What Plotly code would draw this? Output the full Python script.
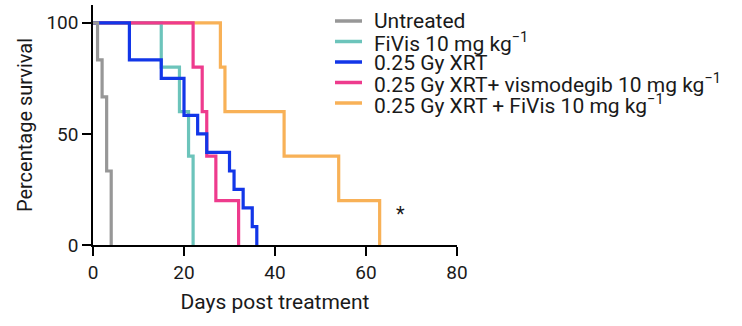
import plotly.graph_objects as go

# ---- data ----
names = ["Untreated", "FiVis 10 mg kg<sup>−1</sup>", "0.25 Gy XRT",
         "0.25 Gy XRT+ vismodegib 10 mg kg<sup>−1</sup>",
         "0.25 Gy XRT + FiVis 10 mg kg<sup>−1</sup>"]
colors = ["#979797", "#6cc4bb", "#1236e8", "#ee3b8d", "#f8b157"]

untreated_days = [0, 1, 2, 3, 4]
untreated_surv = [100, 83.3, 66.7, 33.3, 0]
fivis_days = [0, 15, 19, 21, 22]
fivis_surv = [100, 80, 60, 40, 0]
xrt_days = [0, 8, 15, 20, 23, 25, 30, 31, 33, 35, 36]
xrt_surv = [100, 83.3, 75, 58.3, 50, 41.7, 33.3, 25, 16.7, 8.3, 0]
vismo_days = [0, 22, 24, 25, 27, 32]
vismo_surv = [100, 80, 60, 40, 20, 0]
combo_days = [0, 28, 29, 42, 54, 63]
combo_surv = [100, 80, 60, 40, 20, 0]

x_ticks = [0, 20, 40, 60, 80]
y_ticks = [0, 50, 100]

series = [(untreated_days, untreated_surv), (fivis_days, fivis_surv),
          (xrt_days, xrt_surv), (vismo_days, vismo_surv),
          (combo_days, combo_surv)]

FONT = "Roboto"
TXT = "#1a1a1a"
fig = go.Figure()
# draw in reverse so untreated/XRT sit on top as in the reference
draw_order = [4, 1, 3, 2, 0]
for i in draw_order:
    d, s = series[i]
    fig.add_trace(go.Scatter(x=d, y=s, mode="lines", line_shape="hv",
                             line=dict(color=colors[i], width=3.2),
                             name=names[i], showlegend=False))

# manual legend (tight row spacing)
L, T, PW, PH = 93, 5, 364, 240
def px2paper_x(px):
    return (px - L) / PW
def px2paper_y(py):
    return (T + PH - py) / PH

row0, gap = 21, 20.5
for i, (nm, c) in enumerate(zip(names, colors)):
    yc = row0 + gap * i
    fig.add_shape(type="line", xref="paper", yref="paper",
                  x0=px2paper_x(335), x1=px2paper_x(362),
                  y0=px2paper_y(yc), y1=px2paper_y(yc),
                  line=dict(color=c, width=3.5))
    fig.add_annotation(xref="paper", yref="paper", x=px2paper_x(372),
                       y=px2paper_y(yc + 0.5), text=nm, showarrow=False,
                       xanchor="left", yanchor="middle",
                       font=dict(size=21, color=TXT, family=FONT))

fig.add_annotation(x=67.5, y=14, text="*", showarrow=False,
                   font=dict(size=20, color=TXT, family=FONT))

axis_common = dict(showline=True, linecolor="black", linewidth=1.5,
                   ticks="outside", ticklen=9, tickwidth=1.5, tickcolor="black",
                   showgrid=False, zeroline=False,
                   tickfont=dict(size=19, color=TXT, family=FONT))
fig.update_xaxes(range=[0, 80], tickvals=x_ticks,
                 title=dict(text="Days post treatment", standoff=12,
                            font=dict(size=21, color=TXT, family=FONT)),
                 **axis_common)
fig.update_yaxes(range=[0, 108], tickvals=y_ticks,
                 title=dict(text="Percentage survival", standoff=8,
                            font=dict(size=20, color=TXT, family=FONT)),
                 **axis_common)

fig.update_layout(width=742, height=326, margin=dict(l=L, r=742 - L - PW, t=T, b=326 - T - PH),
                  plot_bgcolor="white", paper_bgcolor="white", showlegend=False)
fig.write_html("out.html")
